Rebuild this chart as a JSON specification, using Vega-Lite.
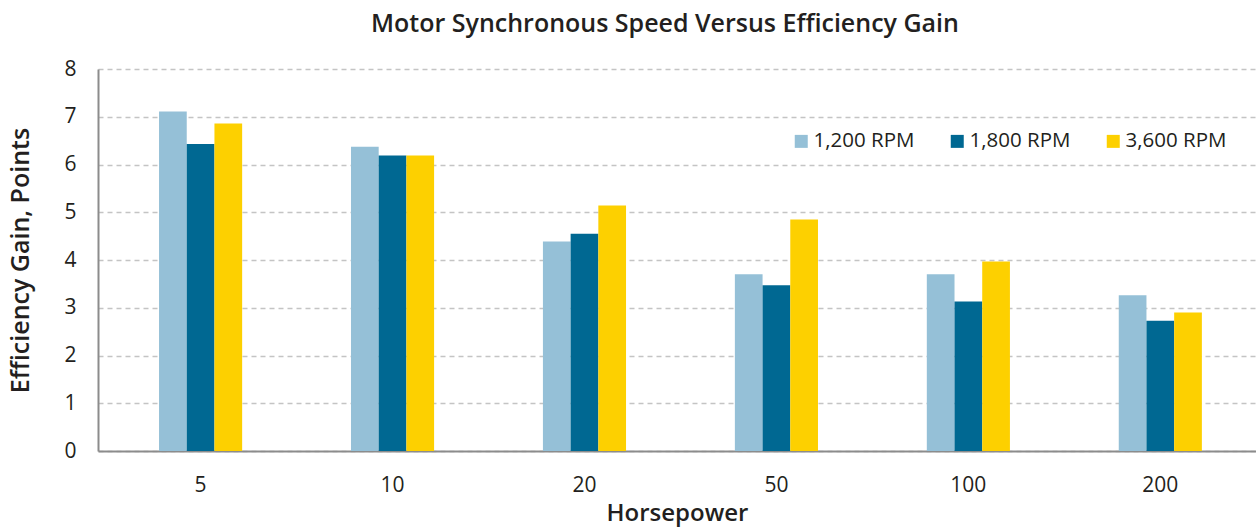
{
  "$schema": "https://vega.github.io/schema/vega-lite/v6.json",
  "autosize": {"type": "none"},
  "width": 1158,
  "height": 382,
  "padding": {"left": 98, "top": 69, "right": 0, "bottom": 78},
  "background": "white",
  "title": {
    "text": "Motor Synchronous Speed Versus Efficiency Gain",
    "font": "Open Sans",
    "fontSize": 25,
    "fontWeight": 600,
    "color": "#231F20",
    "anchor": "middle",
    "dx": -12,
    "offset": 21
  },
  "data": {
    "values": [
      {"hp": "5", "rpm": "1,200 RPM", "gain": 7.11},
      {"hp": "5", "rpm": "1,800 RPM", "gain": 6.43},
      {"hp": "5", "rpm": "3,600 RPM", "gain": 6.86},
      {"hp": "10", "rpm": "1,200 RPM", "gain": 6.37},
      {"hp": "10", "rpm": "1,800 RPM", "gain": 6.19},
      {"hp": "10", "rpm": "3,600 RPM", "gain": 6.19},
      {"hp": "20", "rpm": "1,200 RPM", "gain": 4.39},
      {"hp": "20", "rpm": "1,800 RPM", "gain": 4.55},
      {"hp": "20", "rpm": "3,600 RPM", "gain": 5.14},
      {"hp": "50", "rpm": "1,200 RPM", "gain": 3.7},
      {"hp": "50", "rpm": "1,800 RPM", "gain": 3.47},
      {"hp": "50", "rpm": "3,600 RPM", "gain": 4.85},
      {"hp": "100", "rpm": "1,200 RPM", "gain": 3.7},
      {"hp": "100", "rpm": "1,800 RPM", "gain": 3.13},
      {"hp": "100", "rpm": "3,600 RPM", "gain": 3.97},
      {"hp": "200", "rpm": "1,200 RPM", "gain": 3.26},
      {"hp": "200", "rpm": "1,800 RPM", "gain": 2.73},
      {"hp": "200", "rpm": "3,600 RPM", "gain": 2.9}
    ]
  },
  "mark": {"type": "bar"},
  "encoding": {
    "x": {
      "field": "hp",
      "type": "nominal",
      "sort": ["5", "10", "20", "50", "100", "200"],
      "scale": {"paddingInner": 0.567, "paddingOuter": 0.30, "align": 0.53},
      "axis": {
        "title": "Horsepower",
        "titleFont": "Open Sans",
        "titleFontSize": 24,
        "titleFontWeight": 600,
        "titleColor": "#231F20",
        "titlePadding": 6,
        "labelFont": "Open Sans",
        "labelFontSize": 21,
        "labelColor": "#231F20",
        "labelAngle": 0,
        "labelPadding": 23,
        "labelOverlap": false,
        "ticks": false,
        "domainColor": "#8C8C8C",
        "domainWidth": 2,
        "grid": false
      }
    },
    "xOffset": {"field": "rpm", "type": "nominal", "sort": ["1,200 RPM", "1,800 RPM", "3,600 RPM"], "scale": {"paddingInner": 0, "paddingOuter": 0}},
    "y": {
      "field": "gain",
      "type": "quantitative",
      "scale": {"domain": [0, 8], "nice": false},
      "axis": {
        "title": "Efficiency Gain, Points",
        "titleFont": "Open Sans",
        "titleFontSize": 25,
        "titleFontWeight": 600,
        "titleColor": "#231F20",
        "titlePadding": 30,
        "labelFont": "Open Sans",
        "labelFontSize": 21,
        "labelColor": "#231F20",
        "labelPadding": 22,
        "labelOverlap": false,
        "values": [0, 1, 2, 3, 4, 5, 6, 7, 8],
        "ticks": false,
        "domainColor": "#8C8C8C",
        "domainWidth": 2,
        "grid": true,
        "gridColor": "#C4C4C4",
        "gridDash": [5, 4],
        "gridWidth": 1.5
      }
    },
    "color": {
      "field": "rpm",
      "type": "nominal",
      "sort": ["1,200 RPM", "1,800 RPM", "3,600 RPM"],
      "scale": {"domain": ["1,200 RPM", "1,800 RPM", "3,600 RPM"], "range": ["#95C0D7", "#006892", "#FDD000"]},
      "legend": {
        "title": null,
        "orient": "none",
        "direction": "horizontal",
        "legendX": 693,
        "legendY": 62,
        "symbolType": "square",
        "symbolSize": 169,
        "symbolStrokeWidth": 0,
        "labelFont": "Open Sans",
        "labelFontSize": 20.5,
        "labelColor": "#231F20",
        "labelOffset": 2,
        "columnPadding": 32
      }
    }
  },
  "config": {"view": {"stroke": null}}
}
